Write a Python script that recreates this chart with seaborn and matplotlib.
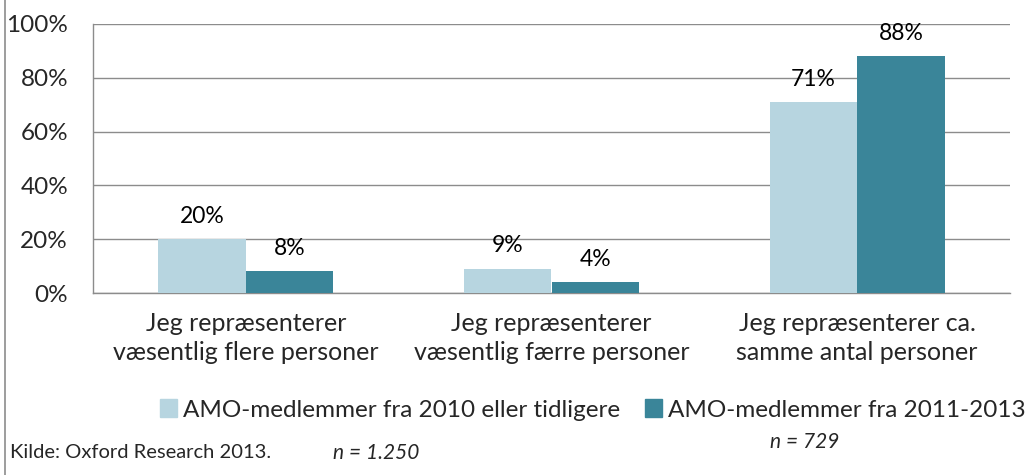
import matplotlib
matplotlib.use('Agg')
import matplotlib.pyplot as plt
from matplotlib.lines import Line2D
from matplotlib.ticker import FuncFormatter, FixedLocator
import seaborn as sns
import pandas as pd

# Data
categories = ['Jeg repræsenterer\nvæsentlig flere personer',
              'Jeg repræsenterer\nvæsentlig færre personer',
              'Jeg repræsenterer ca.\nsamme antal personer']
series_names = ['AMO-medlemmer fra 2010 eller tidligere',
                'AMO-medlemmer fra 2011-2013']
vals_old = [20, 9, 71]
vals_new = [8, 4, 88]
colors = ['#B7D5E0', '#3A8599']

df = pd.DataFrame({
    'kategori': categories * 2,
    'gruppe': [series_names[0]] * 3 + [series_names[1]] * 3,
    'andel': vals_old + vals_new,
})

sns.set_style('white')
plt.rcParams['font.family'] = ['Lato', 'DejaVu Sans']

fig = plt.figure(figsize=(10.3, 4.75), dpi=100)
ax = fig.add_axes([93 / 1030, 1 - 293 / 475, 917 / 1030, 269 / 475])

sns.barplot(data=df, x='kategori', y='andel', hue='gruppe',
            palette=colors, width=0.573, saturation=1, ax=ax,
            edgecolor='none', linewidth=0, legend=True, zorder=3)

ax.set_ylim(0, 100)
ax.set_xlim(-0.5, 2.5)
ax.set_yticks([0, 20, 40, 60, 80, 100])
ax.yaxis.set_major_formatter(FuncFormatter(lambda v, p: f'{int(v)}%'))
ax.grid(axis='y', color='#8C8C8C', linewidth=1, zorder=0)
ax.set_axisbelow(True)
ax.set_xlabel('')
ax.set_ylabel('')

for s in ['top', 'right']:
    ax.spines[s].set_visible(False)
for s in ['left', 'bottom']:
    ax.spines[s].set_color('#8C8C8C')
    ax.spines[s].set_linewidth(1)

ax.tick_params(axis='y', length=6, color='#8C8C8C', labelsize=17.5, pad=12)
ax.tick_params(axis='x', which='major', length=0, labelsize=18, pad=14)
ax.xaxis.set_minor_locator(FixedLocator([-0.5, 0.5, 1.5, 2.5]))
ax.tick_params(axis='x', which='minor', length=6, color='#8C8C8C')
for lab in ax.get_xticklabels():
    lab.set_linespacing(1.3)

# value labels
for cont in ax.containers:
    ax.bar_label(cont, labels=[f'{v:.0f}%' for v in cont.datavalues],
                 padding=9, fontsize=16.5, color='black')

# legend
handles = [plt.Rectangle((0, 0), 1, 1, color=c) for c in colors]
ax.legend(handles, series_names, loc='center', ncol=2, frameon=False,
          bbox_to_anchor=(593 / 1030, 1 - 410 / 475), bbox_transform=fig.transFigure,
          fontsize=17.5, handlelength=0.7, handleheight=0.7, handletextpad=0.25,
          columnspacing=1.0, borderpad=0, borderaxespad=0)

# footnotes
fig.text(10 / 1030, 1 - 453 / 475, 'Kilde: Oxford Research 2013.', fontsize=14.5, va='center')
fig.text(333 / 1030, 1 - 453 / 475, 'n = 1.250', fontsize=15, style='italic', va='center')
fig.text(770 / 1030, 1 - 442 / 475, 'n = 729', fontsize=15, style='italic', va='center')

# left frame line
fig.add_artist(Line2D([5 / 1030, 5 / 1030], [0, 1], transform=fig.transFigure,
                      color='#8C8C8C', linewidth=1.2))

fig.savefig('out.png', dpi=100)
